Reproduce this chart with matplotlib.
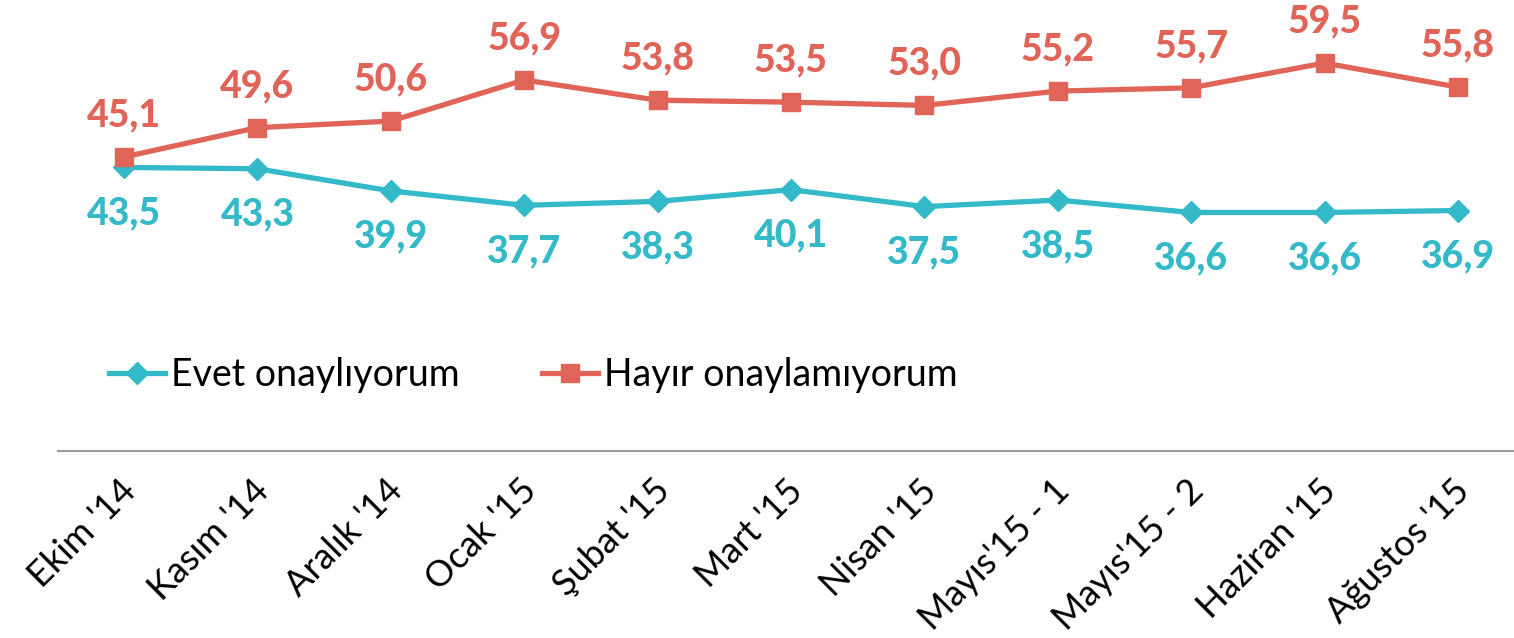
import matplotlib
matplotlib.use("Agg")
import matplotlib.pyplot as plt
import matplotlib.transforms as mtransforms
from matplotlib.lines import Line2D

categories = ["Ekim '14", "Kasım '14", "Aralık '14", "Ocak '15", "Şubat '15", "Mart '15",
              "Nisan '15", "Mayıs'15 - 1", "Mayıs'15 - 2", "Haziran '15", "Ağustos '15"]
evet = [43.5, 43.3, 39.9, 37.7, 38.3, 40.1, 37.5, 38.5, 36.6, 36.6, 36.9]
hayir = [45.1, 49.6, 50.6, 56.9, 53.8, 53.5, 53.0, 55.2, 55.7, 59.5, 55.8]
series_names = ["Evet onaylıyorum", "Hayır onaylamıyorum"]

BLUE = "#33B9C8"
RED = "#E06457"
plt.rcParams['font.family'] = ['Lato', 'DejaVu Sans']

fig = plt.figure(figsize=(15.14, 6.38), dpi=100)
ax = fig.add_axes([58/1514, 1 - 451.4/638, 1 - 58/1514, 451.4/638])
x = list(range(len(categories)))

ax.plot(x, evet, color=BLUE, lw=3.8, marker="D", ms=11, zorder=3)
ax.plot(x, hayir, color=RED, lw=3.8, marker="s", ms=13, zorder=4)

for xi, v in zip(x, evet):
    ax.annotate(f"{v:.1f}".replace(".", ","), (xi, v), xytext=(0, -33), textcoords="offset points",
                ha="center", va="center", color=BLUE, fontsize=27, fontweight="black")
for xi, v in zip(x, hayir):
    ax.annotate(f"{v:.1f}".replace(".", ","), (xi, v), xytext=(0, 30), textcoords="offset points",
                ha="center", va="center", color=RED, fontsize=27, fontweight="black")

ax.set_xlim(-0.495, 10.42)
ax.set_ylim(0, 69.15)
ax.set_yticks([])
for s in ["top", "right", "left"]:
    ax.spines[s].set_visible(False)
ax.spines["bottom"].set_color("#9a9a9a")
ax.spines["bottom"].set_linewidth(1.5)
ax.set_xticks(x)
ax.set_xticklabels(categories, rotation=45, ha="right", va="top", rotation_mode="anchor", fontsize=26)
ax.tick_params(axis="x", length=0, pad=16)
shift = mtransforms.ScaledTranslation(-5/100, 0, fig.dpi_scale_trans)
for lbl in ax.get_xticklabels():
    lbl.set_transform(lbl.get_transform() + shift)

handles = [Line2D([], [], color=BLUE, lw=3.8, marker="D", ms=11),
           Line2D([], [], color=RED, lw=3.8, marker="s", ms=13)]
ax.legend(handles, series_names, loc="center left", bbox_to_anchor=(0.012, 0.17), ncol=2,
          frameon=False, fontsize=27, handlelength=1.5, handletextpad=0.15, columnspacing=2.2)

fig.savefig("out.png", dpi=100)
